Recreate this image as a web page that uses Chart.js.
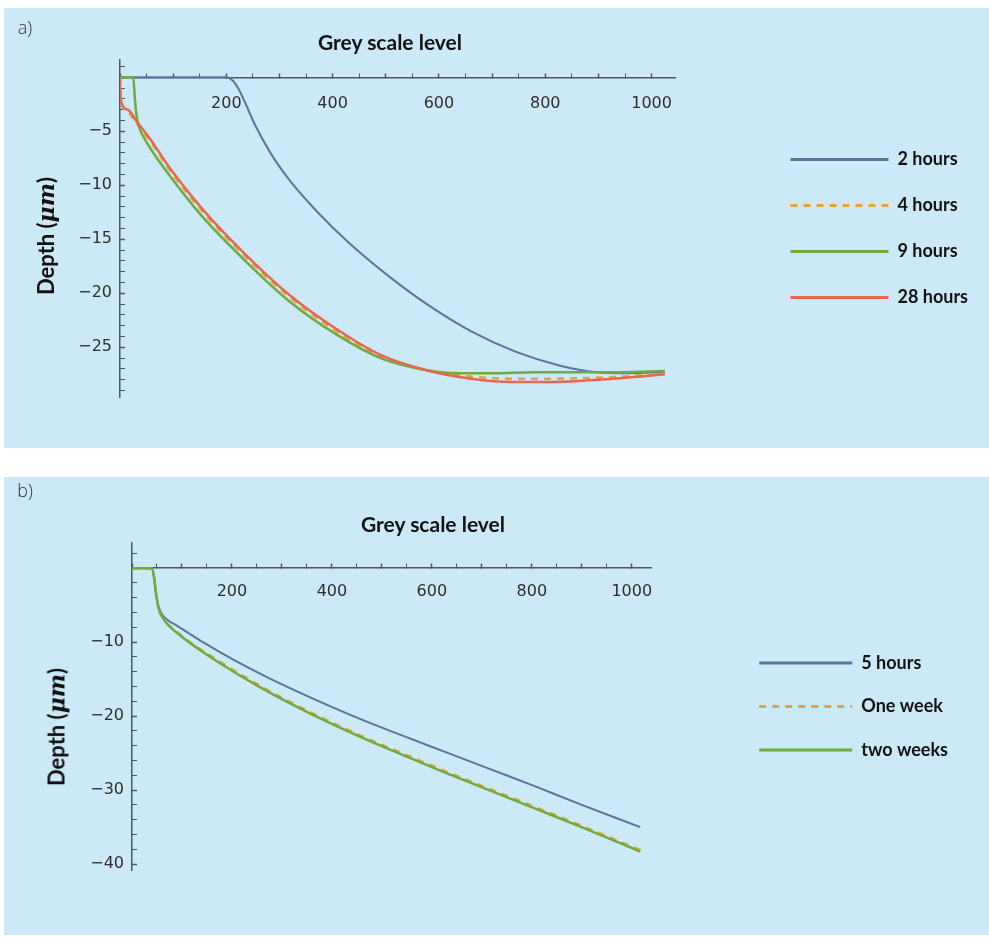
<!DOCTYPE html>
<html>
<head>
<meta charset="utf-8">
<title>Depth vs grey scale level</title>
<script src="https://cdn.jsdelivr.net/npm/chart.js@4.4.1/dist/chart.umd.min.js"></script>
<style>
  body { margin: 0; background: #fff; }
  .wrap { position: relative; width: 989px; height: 937px; overflow: hidden; }
  .panel { position: absolute; left: 4px; width: 985px; background: #cce9f7; }
  .panel canvas { position: absolute; left: 0; top: 0; }
  .lbl { position: absolute; transform: translate(-50%, -50%); white-space: nowrap; color: #111; }
  .tag { font: 300 18px "Open Sans", sans-serif; color: #333; }
  .xtitle { font: bold 21px Lato, sans-serif; }
  .ytitle { font: bold 22px Lato, sans-serif; transform: translate(-50%, -50%) rotate(-90deg); }
  .ytitle i { font-family: "DejaVu Serif", serif; font-weight: bold; }
</style>
</head>
<body>
<div class="wrap">
  <div class="panel" style="top: 8px; height: 440px;">
    <canvas id="chart-a" width="985" height="440"></canvas>
    <div class="lbl tag" style="left: 21px; top: 19px;">a)</div>
    <div class="lbl xtitle" style="left: 386px; top: 33px;">Grey scale level</div>
    <div class="lbl ytitle" style="left: 41px; top: 228px;">Depth (<i>μm</i>)</div>
  </div>
  <div class="panel" style="top: 477px; height: 458px;">
    <canvas id="chart-b" width="985" height="458"></canvas>
    <div class="lbl tag" style="left: 21px; top: 13px;">b)</div>
    <div class="lbl xtitle" style="left: 429px; top: 46px;">Grey scale level</div>
    <div class="lbl ytitle" style="left: 52px; top: 250px;">Depth (<i>μm</i>)</div>
  </div>
</div>
<script>
// panel a) - short times
const labelsA = ['2 hours', '4 hours', '9 hours', '28 hours'];
const grey2h = [0, 200, 212, 222, 234, 253, 283, 320, 370, 430, 500, 580, 660, 744, 828, 896, 960, 1025];
const depth2h = [0, 0, -0.3, -1.0, -2.2, -4.3, -7.0, -9.6, -12.4, -15.3, -18.2, -21.1, -23.5, -25.4, -26.7, -27.3, -27.4, -27.3];
const grey4h = [0, 2, 15, 30, 58, 95, 155, 240, 320, 410, 490, 575, 660, 740, 820, 900, 980, 1025];
const depth4h = [0, -2.2, -3.2, -4.2, -6.0, -8.7, -12.4, -16.8, -20.4, -23.6, -25.8, -27.1, -27.7, -27.9, -27.9, -27.8, -27.6, -27.4];
const grey9h = [0, 25, 28, 31, 36, 45, 60, 95, 155, 240, 320, 410, 490, 575, 640, 700, 780, 860, 940, 1025];
const depth9h = [0, 0, -2.0, -3.5, -4.6, -5.6, -6.8, -9.2, -12.9, -17.2, -20.8, -23.9, -26.0, -27.1, -27.4, -27.4, -27.3, -27.3, -27.3, -27.2];
const grey28h = [0, 1, 15, 30, 58, 95, 155, 240, 320, 410, 490, 575, 660, 740, 820, 900, 980, 1025];
const depth28h = [0, -2.0, -3.0, -4.0, -5.8, -8.5, -12.2, -16.6, -20.2, -23.4, -25.7, -27.1, -27.9, -28.2, -28.2, -28.0, -27.7, -27.5];

// panel b) - long times
const labelsB = ['5 hours', 'One week', 'two weeks'];
const grey5h = [0, 40, 44, 48, 53, 62, 93, 182, 272, 361, 450, 540, 629, 718, 807, 896, 1017];
const depth5h = [0, 0, -1.2, -3.4, -5.2, -6.4, -7.9, -11.6, -14.8, -17.6, -20.2, -22.6, -24.9, -27.2, -29.5, -31.9, -35.0];
const greyWeek = [0, 40, 44, 48, 53, 62, 93, 182, 272, 361, 450, 540, 629, 718, 807, 896, 1017];
const depthWeek = [0, 0, -1.2, -3.4, -5.3, -6.7, -8.8, -12.9, -16.5, -19.6, -22.4, -25.0, -27.5, -29.9, -32.3, -34.7, -38.1];
const grey2w = [0, 40, 44, 48, 53, 62, 93, 182, 272, 361, 450, 540, 629, 718, 807, 896, 1017];
const depth2w = [0, 0, -1.2, -3.4, -5.4, -6.8, -8.9, -13.1, -16.7, -19.8, -22.6, -25.2, -27.7, -30.1, -32.5, -34.9, -38.3];

const BLUE = '#55789f';
const ORANGE = '#e3a33c';
const GREEN = '#6fab3e';
const RED = '#e8674f';
const AXIS = '#4f5862';
const TICK_TEXT = '#2e2e2e';

const pts = (xs, ys) => xs.map((x, i) => ({ x: x, y: ys[i] }));
const minus = v => '\u2212' + Math.abs(v);

function series(label, xs, ys, color, order, dash) {
    return {
        label: label,
        data: pts(xs, ys),
        borderColor: color,
        backgroundColor: color,
        borderWidth: color === BLUE ? 2 : 2.5,
        borderDash: dash || [],
        order: order
    };
}

function buildChart(canvas, cfg) {
    return new Chart(canvas, {
        type: 'line',
        data: { datasets: cfg.datasets },
        options: {
            responsive: false,
            animation: false,
            layout: { padding: cfg.padding },
            elements: {
                point: { radius: 0 },
                line: { cubicInterpolationMode: 'monotone' }
            },
            plugins: {
                tooltip: { enabled: false },
                legend: {
                    position: 'right',
                    maxWidth: 400,
                    labels: {
                        usePointStyle: true,
                        pointStyle: 'line',
                        pointStyleWidth: cfg.legendLine,
                        padding: cfg.legendGap,
                        color: '#111',
                        font: { family: 'Lato', size: 18, weight: 'bold' },
                        sort: (a, b) => a.datasetIndex - b.datasetIndex,
                        generateLabels(chart) {
                            const items = Chart.defaults.plugins.legend.labels.generateLabels(chart);
                            items.forEach(item => {
                                const ds = chart.data.datasets[item.datasetIndex];
                                item.lineWidth = 3;
                                item.lineDash = ds.borderDash;
                                item.strokeStyle = ds.borderColor;
                            });
                            return items;
                        }
                    }
                }
            },
            scales: {
                x: {
                    type: 'linear',
                    position: { y: 0 },
                    min: 0,
                    max: cfg.xMax,
                    afterFit: s => { s.height = 0; },
                    border: { color: AXIS, width: 1.5 },
                    grid: {
                        drawOnChartArea: false,
                        tickLength: -5,
                        color: AXIS,
                        tickWidth: c => (c.tick && c.tick.value % 100 === 0 ? 1.5 : 1)
                    },
                    ticks: {
                        stepSize: 50,
                        autoSkip: false,
                        includeBounds: false,
                        maxRotation: 0,
                        padding: cfg.xPad,
                        color: TICK_TEXT,
                        font: { family: 'DejaVu Sans', size: 16 },
                        callback: v => (v !== 0 && v % 200 === 0 ? String(v) : '')
                    }
                },
                y: {
                    position: 'left',
                    min: cfg.yMin,
                    max: cfg.yMax,
                    afterFit: s => { s.width = 50; },
                    border: { color: AXIS, width: 1.5 },
                    grid: {
                        drawOnChartArea: false,
                        tickLength: -5,
                        color: AXIS,
                        tickWidth: c => (c.tick && c.tick.value % cfg.yMajor === 0 ? 1.5 : 1)
                    },
                    ticks: {
                        stepSize: cfg.yMinor,
                        autoSkip: false,
                        includeBounds: false,
                        padding: 13,
                        color: TICK_TEXT,
                        font: { family: 'DejaVu Sans', size: 16 },
                        callback: v => (v !== 0 && v % cfg.yMajor === 0 ? minus(v) : '')
                    }
                },
                // empty box that pushes the legend away from the plot
                spacer: {
                    position: 'right',
                    grid: { display: false },
                    ticks: { display: false },
                    border: { display: false },
                    afterFit: s => { s.width = cfg.legendOffset; }
                }
            }
        }
    });
}

buildChart(document.getElementById('chart-a'), {
    datasets: [
        series(labelsA[0], grey2h, depth2h, BLUE, 3),
        series(labelsA[1], grey4h, depth4h, ORANGE, 2, [7, 6]),
        series(labelsA[2], grey9h, depth9h, GREEN, 1),
        series(labelsA[3], grey28h, depth28h, RED, 0)
    ],
    padding: { left: 66, top: 52, right: 11, bottom: 51 },
    xMax: 1045,
    yMin: -29.6,
    yMax: 1.6,
    yMajor: 5,
    yMinor: 1,
    xPad: 22,
    legendLine: 98,
    legendGap: 28,
    legendOffset: 87
});

buildChart(document.getElementById('chart-b'), {
    datasets: [
        series(labelsB[0], grey5h, depth5h, BLUE, 2),
        series(labelsB[1], greyWeek, depthWeek, ORANGE, 1, [7, 6]),
        series(labelsB[2], grey2w, depth2w, GREEN, 0)
    ],
    padding: { left: 78, top: 66, right: 31, bottom: 65 },
    xMax: 1040,
    yMin: -40.8,
    yMax: 3.4,
    yMajor: 10,
    yMinor: 2,
    xPad: 19,
    legendLine: 93,
    legendGap: 25.5,
    legendOffset: 82
});
</script>
</body>
</html>
